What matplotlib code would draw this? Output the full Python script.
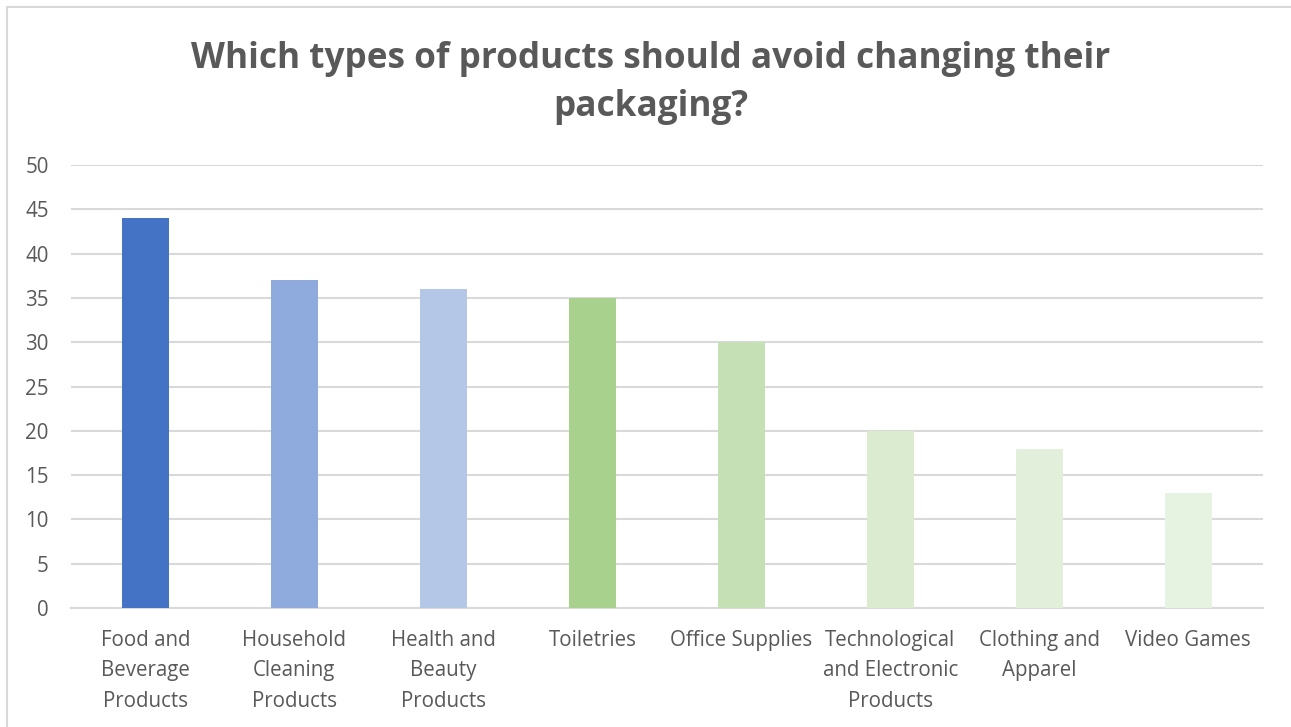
import matplotlib
matplotlib.use('Agg')
import matplotlib.pyplot as plt
from matplotlib.lines import Line2D

categories = ['Food and\nBeverage\nProducts', 'Household\nCleaning\nProducts',
              'Health and\nBeauty\nProducts', 'Toiletries', 'Office Supplies',
              'Technological\nand Electronic\nProducts', 'Clothing and\nApparel',
              'Video Games']
values = [44, 37, 36, 35, 30, 20, 18, 13]
colors = ['#4472C4', '#8FAADC', '#B4C7E7', '#A9D18E', '#C5E0B4',
          '#DAEBD0', '#E2EFDA', '#E7F3E1']
y_ticks = list(range(0, 51, 5))

plt.rcParams['font.family'] = ['Open Sans', 'DejaVu Sans']
text_color = '#595959'
grid_color = '#D9D9D9'

fig = plt.figure(figsize=(12.91, 7.27), dpi=100)
ax = fig.add_axes([0.055, 0.1637, 0.923, 0.6093])

x = range(len(categories))
ax.bar(x, values, width=0.315, color=colors, zorder=3)

ax.set_xlim(-0.5, len(categories) - 0.5)
ax.set_ylim(0, 50)
ax.set_yticks(y_ticks)
ax.set_xticks(list(x))
ax.set_xticklabels(categories, fontsize=14.8, color=text_color, linespacing=1.6)
ax.tick_params(axis='y', labelsize=14.8, labelcolor=text_color, length=0, pad=16)
ax.tick_params(axis='x', length=0, pad=15.5)

ax.grid(axis='y', color=grid_color, linewidth=1.5, zorder=0)
for side in ['top', 'right', 'left']:
    ax.spines[side].set_visible(False)
ax.spines['bottom'].set_color(grid_color)
ax.spines['bottom'].set_linewidth(1.5)

fig.text(0.504, 0.886, 'Which types of products should avoid changing their\npackaging?',
         ha='center', va='center', fontsize=25.3, fontweight='bold', color=text_color,
         linespacing=1.47)

# thin frame along the top and left edges
fig.add_artist(Line2D([7 / 1291, 7 / 1291], [0, 1 - 7 / 727], transform=fig.transFigure,
                      color=grid_color, linewidth=1.5))
fig.add_artist(Line2D([7 / 1291, 1], [1 - 7 / 727, 1 - 7 / 727], transform=fig.transFigure,
                      color=grid_color, linewidth=1.5))

fig.savefig('out.png', dpi=100, facecolor='white')
